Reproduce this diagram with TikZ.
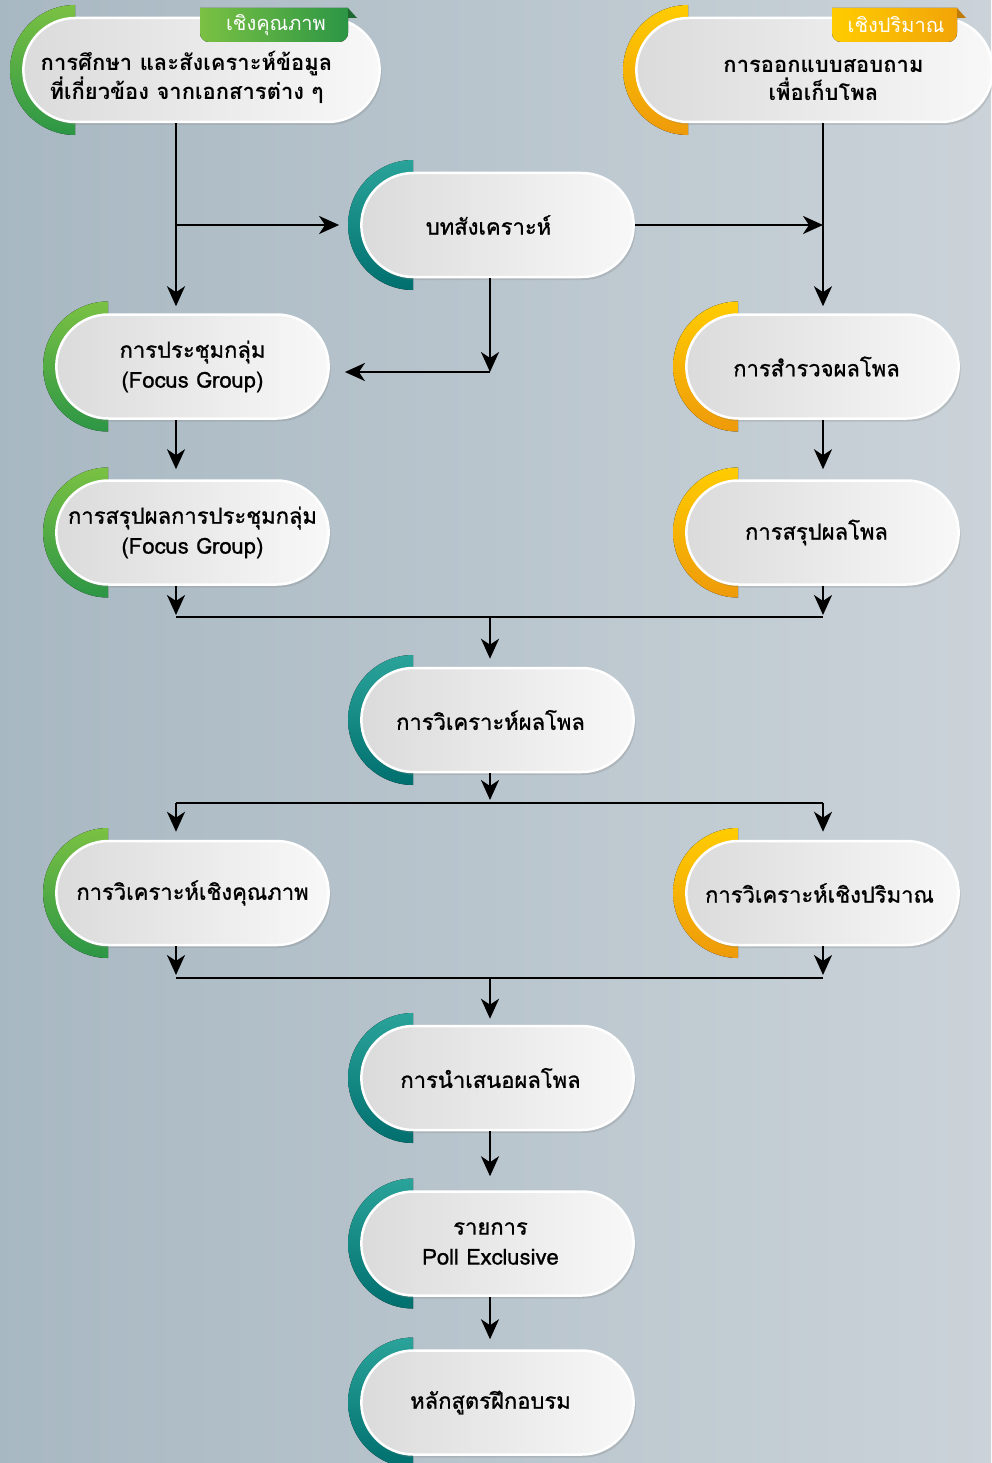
\documentclass[tikz,border=0pt]{standalone}
\usepackage{fontspec}
\newfontfamily\thaifont[Script=Thai,FakeBold=1]{Loma}
\newfontfamily\thaitag[Script=Thai]{Loma}
\usetikzlibrary{shapes.misc,arrows.meta,shadows,backgrounds}

\definecolor{bgleft}{HTML}{A8B8C2}
\definecolor{bgright}{HTML}{CBD3D9}
\definecolor{greentop}{HTML}{7AC143}
\definecolor{greenbot}{HTML}{2C9645}
\definecolor{tealtop}{HTML}{2AA39A}
\definecolor{tealbot}{HTML}{006F6E}
\definecolor{orangetop}{HTML}{FFCC00}
\definecolor{orangebot}{HTML}{EE9A0A}
\definecolor{pillleft}{HTML}{DADBDA}
\definecolor{pillright}{HTML}{F8F8F8}

\begin{document}
\begin{tikzpicture}
[x=1pt,y=1pt,
 pill/.style={shape=rounded rectangle,minimum width=279pt,minimum height=104pt,
   left color=pillleft,right color=pillright,draw=white,line width=2.5pt,
   drop shadow={opacity=0.25,shadow xshift=2pt,shadow yshift=-3pt},
   font=\thaifont\fontsize{22}{30}\selectfont,align=center,text=black},
 widepill/.style={pill,minimum width=363pt,font=\thaitag\bfseries\fontsize{22}{28}\selectfont},
 tag/.style={text=white,font=\thaitag\fontsize{20}{24}\selectfont,inner sep=0pt},
 qualarc/.style={top color=greentop,bottom color=greenbot},
 quantarc/.style={top color=orangetop,bottom color=orangebot},
 synarc/.style={top color=tealtop,bottom color=tealbot},
 flow/.style={-{Stealth[length=20pt,width=18pt,inset=6pt]},line width=2.5pt},
 line/.style={line width=2.5pt}]
\useasboundingbox (0,0) rectangle (991,-1463);

% pills
\node[widepill] (study) at (201.5,-70)
  {\hspace*{-30pt}\rule{0pt}{34pt}การศึกษา และสังเคราะห์ข้อมูล\\\hspace*{-30pt}ที่เกี่ยวข้อง จากเอกสารต่าง ๆ};
\node[widepill] (quest) at (814.5,-70)
  {\hspace*{18pt}\rule{0pt}{34pt}การออกแบบสอบถาม\\\hspace*{18pt}เพื่อเก็บโพล};
\node[pill] (syn) at (497.5,-225) {\hspace*{-18pt}บทสังเคราะห์};
\node[pill] (focus) at (192.5,-366.5) {การประชุมกลุ่ม\\(Focus Group)};
\node[pill] (survey) at (822.5,-366.5) {\hspace*{-12pt}การสำรวจผลโพล};
\node[pill] (focussum) at (192.5,-532.5) {การสรุปผลการประชุมกลุ่ม\\(Focus Group)};
\node[pill] (pollsum) at (822.5,-532.5) {\hspace*{-12pt}การสรุปผลโพล};
\node[pill] (analysis) at (497.5,-720) {\hspace*{-14pt}การวิเคราะห์ผลโพล};
\node[pill] (qualan) at (192.5,-893) {การวิเคราะห์เชิงคุณภาพ};
\node[pill] (quantan) at (822.5,-893) {\hspace*{-6pt}การวิเคราะห์เชิงปริมาณ};
\node[pill] (present) at (497.5,-1078) {\hspace*{-14pt}การนำเสนอผลโพล};
\node[pill] (pollex) at (497.5,-1243.5) {\hspace*{-14pt}รายการ\\\hspace*{-14pt}Poll Exclusive};
\node[pill] (course) at (497.5,-1402.5) {\hspace*{-14pt}หลักสูตรฝึกอบรม};

% tags
\fill[left color=greentop,right color=greenbot] (200,-8) -- (348,-8) -- (348,-33)
  arc[start angle=0,end angle=-90,radius=9] -- (209,-42)
  arc[start angle=270,end angle=180,radius=9] -- cycle;
\fill[greenbot!70!black] (348,-8) -- (357,-18) -- (348,-18) -- cycle;
\node[tag] (qualtag) at (276,-25) {เชิงคุณภาพ};
\fill[left color=orangetop,right color=orangebot!80!orangetop] (832,-8) -- (957,-8) -- (957,-33)
  arc[start angle=0,end angle=-90,radius=9] -- (841,-42)
  arc[start angle=270,end angle=180,radius=9] -- cycle;
\fill[orangebot!80!black] (957,-8) -- (966,-18) -- (957,-18) -- cycle;
\node[tag] (quanttag) at (896,-25) {เชิงปริมาณ};

% background and coloured half discs
\begin{scope}[on background layer]
\fill[left color=bgleft,right color=bgright] (0,0) rectangle (991,-1463);
\foreach \n/\s in {study/qualarc,focus/qualarc,focussum/qualarc,qualan/qualarc,
    quest/quantarc,survey/quantarc,pollsum/quantarc,quantan/quantarc,
    syn/synarc,analysis/synarc,present/synarc,pollex/synarc,course/synarc}
  \fill[\s] ([xshift=53pt]\n.west) ++(0,65) arc[start angle=90,end angle=270,radius=65] -- cycle;
\end{scope}

% connectors
\coordinate (L) at (176,0);
\coordinate (C) at (490,0);
\coordinate (R) at (823,0);
\coordinate (j1) at (490,-372);
\coordinate (j2) at (490,-617);
\coordinate (j3) at (490,-803);
\coordinate (j4) at (490,-978);

\draw[flow,shorten >=7pt] (study.south -| L) -- (focus.north -| L);
\draw[flow,shorten >=21pt] (L |- syn.west) -- (syn.west);
\draw[flow] (syn.east) -- (syn.east -| R);
\draw[flow,shorten >=7pt] (quest.south -| R) -- (survey.north -| R);
\draw[flow] (syn.south -| C) -- (j1);
\draw[flow,shorten >=15pt] (j1) -- (j1 -| focus.east);
\draw[flow,shorten >=10pt] (focus.south -| L) -- (focussum.north -| L);
\draw[flow,shorten >=10pt] (survey.south -| R) -- (pollsum.north -| R);
\draw[flow,shorten >=2pt] (focussum.south -| L) -- (j2 -| L);
\draw[flow,shorten >=2pt] (pollsum.south -| R) -- (j2 -| R);
\draw[line] (j2 -| L) -- (j2 -| R);
\draw[flow,shorten >=8pt] (j2) -- (analysis.north -| C);
\draw[flow,shorten >=3pt] (analysis.south -| C) -- (j3);
\draw[line] (j3 -| L) -- (j3 -| R);
\draw[flow,shorten >=8pt] (j3 -| L) -- (qualan.north -| L);
\draw[flow,shorten >=8pt] (j3 -| R) -- (quantan.north -| R);
\draw[flow,shorten >=3pt] (qualan.south -| L) -- (j4 -| L);
\draw[flow,shorten >=3pt] (quantan.south -| R) -- (j4 -| R);
\draw[line] (j4 -| L) -- (j4 -| R);
\draw[flow,shorten >=6pt] (j4) -- (present.north -| C);
\draw[flow,shorten >=14pt] (present.south -| C) -- (pollex.north -| C);
\draw[flow,shorten >=10pt] (pollex.south -| C) -- (course.north -| C);
\end{tikzpicture}
\end{document}
